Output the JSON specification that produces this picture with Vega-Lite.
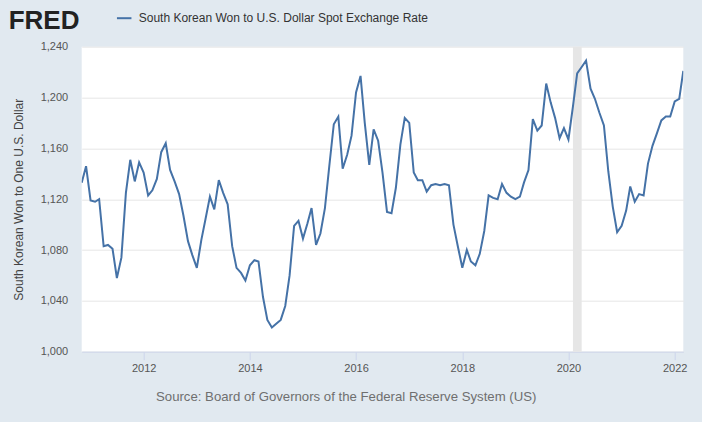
{
  "$schema": "https://vega.github.io/schema/vega-lite/v6.json",
  "width": 601.6,
  "height": 305,
  "autosize": "none",
  "padding": {"left": 81.7, "top": 46.7, "right": 18.7, "bottom": 70.3},
  "background": "#e1e9f0",
  "config": {
    "font": "Liberation Sans",
    "view": {"fill": "white", "stroke": null}
  },
  "title": {
    "text": "FRED",
    "anchor": "start",
    "frame": "group",
    "font": "Liberation Sans",
    "fontSize": 26,
    "fontWeight": "bold",
    "color": "#222222",
    "baseline": "alphabetic",
    "offset": 18,
    "dx": -73,
    "dy": 63
  },
  "datasets": {
    "rate": [
      {"date": "2010-11-01", "value": 1133},
      {"date": "2010-12-01", "value": 1146},
      {"date": "2011-01-01", "value": 1119},
      {"date": "2011-02-01", "value": 1118},
      {"date": "2011-03-01", "value": 1120},
      {"date": "2011-04-01", "value": 1083},
      {"date": "2011-05-01", "value": 1084},
      {"date": "2011-06-01", "value": 1081},
      {"date": "2011-07-01", "value": 1058},
      {"date": "2011-08-01", "value": 1074},
      {"date": "2011-09-01", "value": 1125},
      {"date": "2011-10-01", "value": 1151},
      {"date": "2011-11-01", "value": 1134},
      {"date": "2011-12-01", "value": 1149},
      {"date": "2012-01-01", "value": 1141},
      {"date": "2012-02-01", "value": 1123},
      {"date": "2012-03-01", "value": 1127},
      {"date": "2012-04-01", "value": 1136},
      {"date": "2012-05-01", "value": 1157},
      {"date": "2012-06-01", "value": 1164},
      {"date": "2012-07-01", "value": 1143},
      {"date": "2012-08-01", "value": 1134},
      {"date": "2012-09-01", "value": 1124},
      {"date": "2012-10-01", "value": 1107},
      {"date": "2012-11-01", "value": 1087},
      {"date": "2012-12-01", "value": 1076},
      {"date": "2013-01-01", "value": 1066},
      {"date": "2013-02-01", "value": 1088},
      {"date": "2013-03-01", "value": 1104},
      {"date": "2013-04-01", "value": 1122},
      {"date": "2013-05-01", "value": 1112},
      {"date": "2013-06-01", "value": 1135},
      {"date": "2013-07-01", "value": 1125},
      {"date": "2013-08-01", "value": 1116},
      {"date": "2013-09-01", "value": 1083},
      {"date": "2013-10-01", "value": 1066},
      {"date": "2013-11-01", "value": 1062},
      {"date": "2013-12-01", "value": 1056},
      {"date": "2014-01-01", "value": 1068},
      {"date": "2014-02-01", "value": 1072},
      {"date": "2014-03-01", "value": 1071},
      {"date": "2014-04-01", "value": 1043},
      {"date": "2014-05-01", "value": 1025},
      {"date": "2014-06-01", "value": 1019},
      {"date": "2014-07-01", "value": 1022},
      {"date": "2014-08-01", "value": 1025},
      {"date": "2014-09-01", "value": 1036},
      {"date": "2014-10-01", "value": 1060},
      {"date": "2014-11-01", "value": 1099},
      {"date": "2014-12-01", "value": 1103},
      {"date": "2015-01-01", "value": 1089},
      {"date": "2015-02-01", "value": 1101},
      {"date": "2015-03-01", "value": 1113},
      {"date": "2015-04-01", "value": 1084},
      {"date": "2015-05-01", "value": 1093},
      {"date": "2015-06-01", "value": 1113},
      {"date": "2015-07-01", "value": 1146},
      {"date": "2015-08-01", "value": 1179},
      {"date": "2015-09-01", "value": 1185},
      {"date": "2015-10-01", "value": 1144},
      {"date": "2015-11-01", "value": 1155},
      {"date": "2015-12-01", "value": 1170},
      {"date": "2016-01-01", "value": 1204},
      {"date": "2016-02-01", "value": 1217},
      {"date": "2016-03-01", "value": 1180},
      {"date": "2016-04-01", "value": 1147},
      {"date": "2016-05-01", "value": 1175},
      {"date": "2016-06-01", "value": 1166},
      {"date": "2016-07-01", "value": 1141},
      {"date": "2016-08-01", "value": 1110},
      {"date": "2016-09-01", "value": 1109},
      {"date": "2016-10-01", "value": 1129},
      {"date": "2016-11-01", "value": 1163},
      {"date": "2016-12-01", "value": 1184},
      {"date": "2017-01-01", "value": 1180},
      {"date": "2017-02-01", "value": 1141},
      {"date": "2017-03-01", "value": 1135},
      {"date": "2017-04-01", "value": 1135},
      {"date": "2017-05-01", "value": 1126},
      {"date": "2017-06-01", "value": 1131},
      {"date": "2017-07-01", "value": 1132},
      {"date": "2017-08-01", "value": 1131},
      {"date": "2017-09-01", "value": 1132},
      {"date": "2017-10-01", "value": 1131},
      {"date": "2017-11-01", "value": 1100},
      {"date": "2017-12-01", "value": 1083},
      {"date": "2018-01-01", "value": 1066},
      {"date": "2018-02-01", "value": 1080},
      {"date": "2018-03-01", "value": 1071},
      {"date": "2018-04-01", "value": 1068},
      {"date": "2018-05-01", "value": 1077},
      {"date": "2018-06-01", "value": 1095},
      {"date": "2018-07-01", "value": 1123},
      {"date": "2018-08-01", "value": 1121},
      {"date": "2018-09-01", "value": 1120},
      {"date": "2018-10-01", "value": 1132},
      {"date": "2018-11-01", "value": 1125},
      {"date": "2018-12-01", "value": 1122},
      {"date": "2019-01-01", "value": 1120},
      {"date": "2019-02-01", "value": 1122},
      {"date": "2019-03-01", "value": 1133},
      {"date": "2019-04-01", "value": 1143},
      {"date": "2019-05-01", "value": 1183},
      {"date": "2019-06-01", "value": 1174},
      {"date": "2019-07-01", "value": 1178},
      {"date": "2019-08-01", "value": 1211},
      {"date": "2019-09-01", "value": 1196},
      {"date": "2019-10-01", "value": 1184},
      {"date": "2019-11-01", "value": 1168},
      {"date": "2019-12-01", "value": 1176},
      {"date": "2020-01-01", "value": 1167},
      {"date": "2020-02-01", "value": 1193},
      {"date": "2020-03-01", "value": 1219},
      {"date": "2020-04-01", "value": 1224},
      {"date": "2020-05-01", "value": 1229},
      {"date": "2020-06-01", "value": 1207},
      {"date": "2020-07-01", "value": 1199},
      {"date": "2020-08-01", "value": 1188},
      {"date": "2020-09-01", "value": 1178},
      {"date": "2020-10-01", "value": 1142},
      {"date": "2020-11-01", "value": 1114},
      {"date": "2020-12-01", "value": 1094},
      {"date": "2021-01-01", "value": 1099},
      {"date": "2021-02-01", "value": 1111},
      {"date": "2021-03-01", "value": 1130},
      {"date": "2021-04-01", "value": 1118},
      {"date": "2021-05-01", "value": 1124},
      {"date": "2021-06-01", "value": 1123},
      {"date": "2021-07-01", "value": 1148},
      {"date": "2021-08-01", "value": 1162},
      {"date": "2021-09-01", "value": 1172},
      {"date": "2021-10-01", "value": 1182},
      {"date": "2021-11-01", "value": 1185},
      {"date": "2021-12-01", "value": 1185},
      {"date": "2022-01-01", "value": 1197},
      {"date": "2022-02-01", "value": 1199},
      {"date": "2022-03-01", "value": 1221}
    ],
    "recession": [
      {"start": "2020-02-01", "end": "2020-04-01"}
    ]
  },
  "layer": [
    {
      "data": {"name": "recession"},
      "mark": {"type": "rect", "color": "#e6e6e6"},
      "encoding": {
        "x": {"field": "start", "type": "temporal"},
        "x2": {"field": "end"}
      }
    },
    {
      "data": {"name": "rate"},
      "mark": {"type": "line", "strokeWidth": 2, "clip": true},
      "encoding": {
        "x": {
          "field": "date",
          "type": "temporal",
          "scale": {"domain": ["2010-11-01", "2022-03-01"], "nice": false},
          "axis": {
            "values": ["2012-01-01", "2014-01-01", "2016-01-01", "2018-01-01", "2020-01-01", "2022-01-01"],
            "format": "%Y",
            "grid": false,
            "domainColor": "#ccd6eb",
            "tickColor": "#ccd6eb",
            "tickSize": 8,
            "labelPadding": 3,
            "labelFontSize": 11,
            "labelColor": "#555555",
            "title": "Source: Board of Governors of the Federal Reserve System (US)",
            "titleFontSize": 13.2,
            "titleFontWeight": "normal",
            "titleColor": "#6f6f6f",
            "titlePadding": 17,
            "titleX": 264
          }
        },
        "y": {
          "field": "value",
          "type": "quantitative",
          "scale": {"domain": [1000, 1240], "nice": false, "zero": false},
          "axis": {
            "values": [1000, 1040, 1080, 1120, 1160, 1200, 1240],
            "format": ",d",
            "domain": false,
            "ticks": false,
            "gridColor": "#e6e6e6",
            "labelPadding": 14,
            "labelFontSize": 11,
            "labelColor": "#555555",
            "title": "South Korean Won to One U.S. Dollar",
            "titleFontSize": 12,
            "titleFontWeight": "normal",
            "titleColor": "#444444",
            "titlePadding": 15
          }
        },
        "color": {
          "datum": "South Korean Won to U.S. Dollar Spot Exchange Rate",
          "scale": {"range": ["#4572a7"]},
          "legend": {
            "title": null,
            "orient": "none",
            "legendX": 34,
            "legendY": -37,
            "symbolType": "stroke",
            "symbolStrokeWidth": 2,
            "symbolSize": 210,
            "labelFontSize": 12,
            "labelLimit": 0,
            "labelColor": "#333333",
            "labelOffset": 6
          }
        }
      }
    }
  ]
}
